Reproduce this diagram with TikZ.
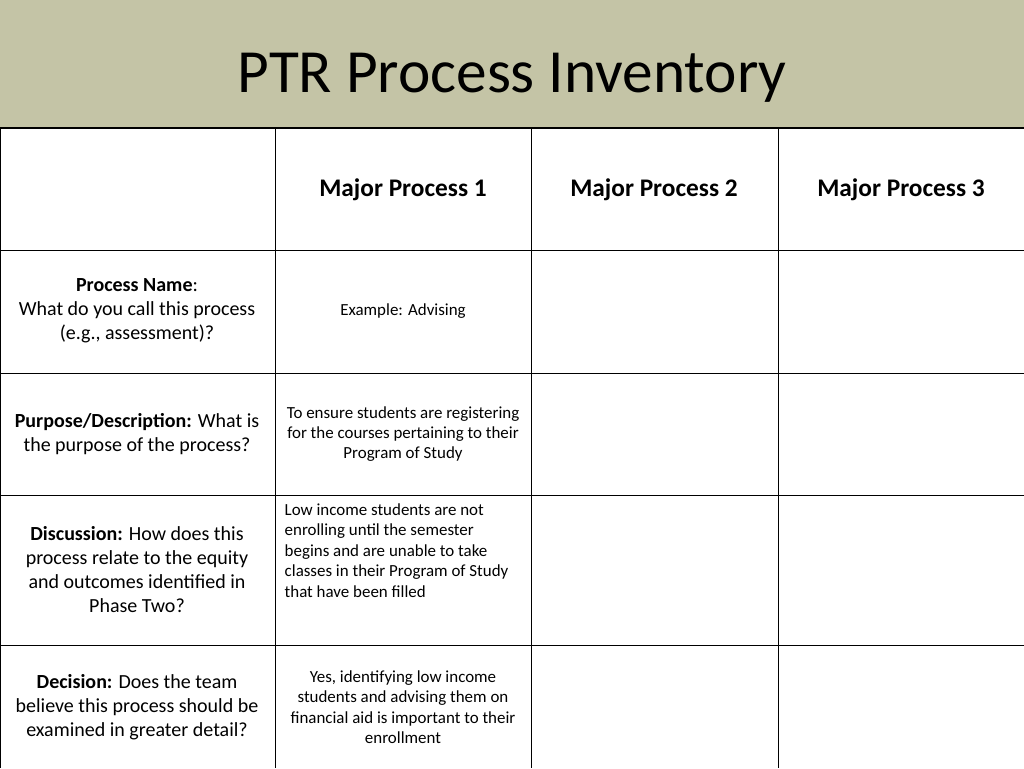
\documentclass[tikz,border=0pt]{standalone}
\usepackage{fontspec}
\setmainfont{Carlito}
\definecolor{band}{RGB}{196,196,166}
\tikzset{
  cell/.style={align=center,font=\fontsize{15}{18}\selectfont},
  small/.style={align=center,font=\fontsize{12.7}{15.3}\selectfont},
  head/.style={font=\fontsize{19}{22}\selectfont\bfseries}
}
\begin{document}
\begin{tikzpicture}[x=0.75pt,y=-0.75pt]
\useasboundingbox (0,0) rectangle (1024,768);
\fill[band] (0,0) rectangle (1024,128);
\node (title) at (512,78) [font=\fontsize{46}{54}\selectfont] {PTR Process Inventory};
% grid
\draw[line width=1pt] (0,128) -- (1024,128);
\foreach \y in {250,373,495,645} \draw (0,\y) -- (1024,\y);
\foreach \x in {0,275,531,778,1024} \draw (\x,128) -- (\x,768);
% header row
\node (mp1) at (403,190) [head] {Major Process 1};
\node (mp2) at (654,190) [head] {Major Process 2};
\node (mp3) at (901,190) [head] {Major Process 3};
% left column
\node (name) at (137,311) [cell] {\textbf{Process Name}:\\What do you call this process\\(e.g., assessment)?};
\node (purpose) at (137,434) [cell] {\textbf{Purpose/Description:} What is\\the purpose of the process?};
\node (discuss) at (137,570) [cell] {\textbf{Discussion:} How does this\\process relate to the equity\\and outcomes identified in\\Phase Two?};
\node (decide) at (137,707) [cell] {\textbf{Decision:} Does the team\\believe this process should be\\examined in greater detail?};
% example column
\node (ex1) at (403,311) [small] {Example: Advising};
\node (ex2) at (403,434) [small] {To ensure students are registering\\for the courses pertaining to their\\Program of Study};
\node (ex3) at (280,499) [small,anchor=north west,align=left] {Low income students are not\\enrolling until the semester\\begins and are unable to take\\classes in their Program of Study\\that have been filled};
\node (ex4) at (403,707) [small] {Yes, identifying low income\\students and advising them on\\financial aid is important to their\\enrollment};
\end{tikzpicture}
\end{document}
